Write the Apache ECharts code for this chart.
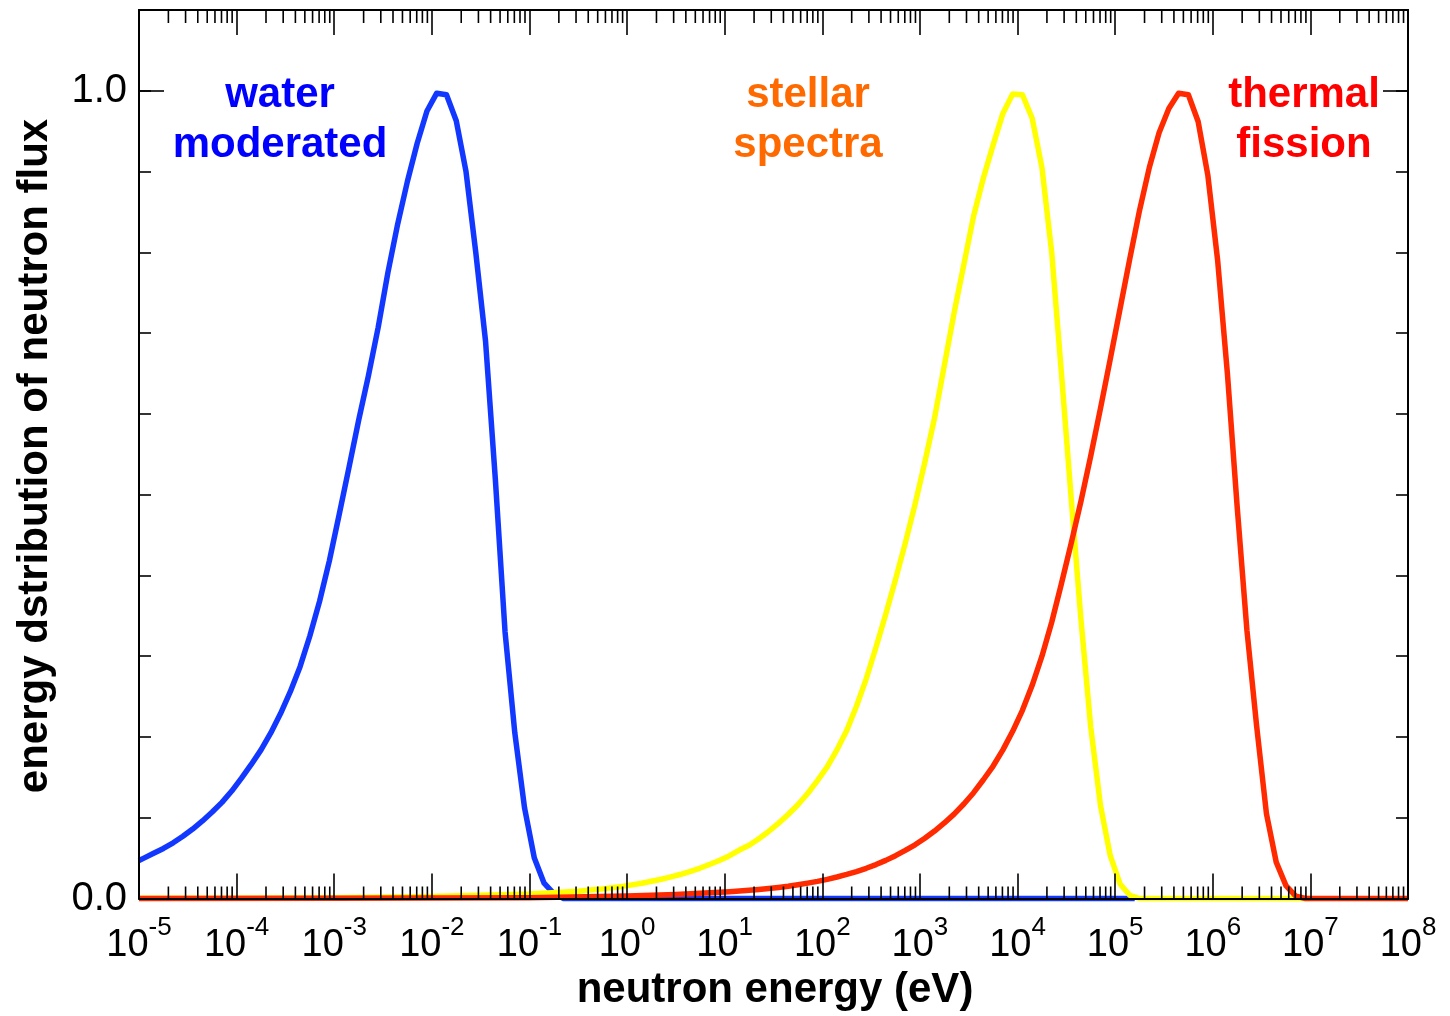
<!DOCTYPE html>
<html>
<head>
<meta charset="utf-8">
<title>Neutron energy spectra</title>
<script src="https://cdn.jsdelivr.net/npm/echarts@6/dist/echarts.min.js"></script>
<style>
  html, body { margin: 0; padding: 0; background: #fff; }
  #chart { width: 1450px; height: 1016px; }
</style>
</head>
<body>
<div id="chart"></div>
<script>
// Energies are stored as log10(E / eV); fluxes are normalised to a peak of 1.

// water-moderated (thermal) spectrum
const waterLogE = [-5.0, -4.95, -4.85, -4.75, -4.65, -4.55, -4.45, -4.35, -4.25, -4.15,
  -4.05, -3.95, -3.85, -3.75, -3.65, -3.55, -3.45, -3.35, -3.25, -3.15,
  -3.05, -2.95, -2.85, -2.75, -2.65, -2.55, -2.45, -2.35, -2.25, -2.15,
  -2.05, -1.95, -1.85, -1.75, -1.65, -1.55, -1.45, -1.35, -1.25, -1.15,
  -1.05, -0.95, -0.85, -0.75, -0.65, 5.2];
const waterFlux = [0.047, 0.050, 0.056, 0.062, 0.069, 0.077, 0.086, 0.096, 0.107, 0.119,
  0.133, 0.149, 0.166, 0.184, 0.205, 0.229, 0.256, 0.287, 0.325, 0.368,
  0.418, 0.475, 0.533, 0.592, 0.647, 0.707, 0.775, 0.835, 0.888, 0.935,
  0.975, 0.997, 0.995, 0.963, 0.900, 0.800, 0.690, 0.520, 0.330, 0.205,
  0.112, 0.050, 0.019, 0.006, 0.0, 0.0];

// stellar spectrum
const stellarLogE = [-5.0, -4.0, -3.0, -2.0, -1.5, -1.0, -0.5, -0.45, -0.35, -0.25,
  -0.15, -0.05, 0.05, 0.15, 0.25, 0.35, 0.45, 0.55, 0.65, 0.75,
  0.85, 0.95, 1.05, 1.15, 1.25, 1.35, 1.45, 1.55, 1.65, 1.75,
  1.85, 1.95, 2.05, 2.15, 2.25, 2.35, 2.45, 2.55, 2.65, 2.75,
  2.85, 2.95, 3.05, 3.15, 3.25, 3.35, 3.45, 3.55, 3.65, 3.75,
  3.85, 3.95, 4.05, 4.15, 4.25, 4.35, 4.45, 4.55, 4.65, 4.75,
  4.85, 4.95, 5.05, 5.15, 5.25, 7.0];
const stellarFlux = [0.0002, 0.0004, 0.001, 0.0025, 0.004, 0.0055, 0.009, 0.0095, 0.0107, 0.0119,
  0.0134, 0.0150, 0.0169, 0.0189, 0.0213, 0.0238, 0.0268, 0.0300, 0.0337, 0.0377,
  0.0424, 0.0474, 0.053, 0.060, 0.066, 0.074, 0.083, 0.093, 0.104, 0.116,
  0.130, 0.146, 0.163, 0.184, 0.208, 0.238, 0.272, 0.311, 0.352, 0.395,
  0.440, 0.488, 0.540, 0.595, 0.660, 0.725, 0.785, 0.845, 0.892, 0.933,
  0.972, 0.996, 0.995, 0.966, 0.905, 0.800, 0.650, 0.495, 0.345, 0.212,
  0.115, 0.053, 0.018, 0.004, 0.0, 0.0];

// thermal fission spectrum
const fissionLogE = [-5.0, -3.0, -1.0, 0.0, 0.5, 1.05, 1.15, 1.25, 1.35, 1.45,
  1.55, 1.65, 1.75, 1.85, 1.95, 2.05, 2.15, 2.25, 2.35, 2.45,
  2.55, 2.65, 2.75, 2.85, 2.95, 3.05, 3.15, 3.25, 3.35, 3.45,
  3.55, 3.65, 3.75, 3.85, 3.95, 4.05, 4.15, 4.25, 4.35, 4.45,
  4.55, 4.65, 4.75, 4.85, 4.95, 5.05, 5.15, 5.25, 5.35, 5.45,
  5.55, 5.65, 5.75, 5.85, 5.95, 6.05, 6.15, 6.25, 6.35, 6.45,
  6.55, 6.65, 6.75, 6.85, 6.95, 8.0];
const fissionFlux = [0.0, 0.0002, 0.0008, 0.003, 0.005, 0.0085, 0.0093, 0.0102, 0.0112, 0.0124,
  0.0137, 0.0152, 0.0170, 0.0190, 0.0212, 0.0237, 0.0266, 0.0298, 0.0334, 0.0374,
  0.0420, 0.0472, 0.0530, 0.0595, 0.0665, 0.0745, 0.0835, 0.0935, 0.1045, 0.117,
  0.131, 0.147, 0.164, 0.184, 0.207, 0.233, 0.264, 0.300, 0.342, 0.390,
  0.440, 0.492, 0.548, 0.607, 0.668, 0.730, 0.792, 0.852, 0.905, 0.948,
  0.978, 0.997, 0.995, 0.962, 0.895, 0.790, 0.650, 0.485, 0.332, 0.213,
  0.105, 0.045, 0.016, 0.003, 0.0, 0.0];

// axis ranges and labelled ticks
const decadeMin = -5, decadeMax = 8;
const fluxMax = 1.1;
const fluxTickLabels = { 0: '0.0', 1: '1.0' };
const minorMultipliers = [2, 3, 4, 5, 6, 7, 8, 9];

const FONT = "'Liberation Sans', Arial, Helvetica, sans-serif";

function pairs(xs, ys) { return xs.map((x, i) => [x, ys[i]]); }

// minor decade ticks (2..9 x 10^k) placed on the log10 energy axis
const minorTicks = [];
for (let k = decadeMin; k < decadeMax; k++) {
  minorMultipliers.forEach(m => minorTicks.push([k + Math.log10(m), 0]));
}

const chart = echarts.init(document.getElementById('chart'), null, { renderer: 'canvas' });

function xAxisCfg(position, showLabels) {
  return {
    type: 'value', position: position, min: decadeMin, max: decadeMax, interval: 1,
    z: 4,
    axisLine: { show: true, onZero: false, lineStyle: { color: '#000', width: 2 } },
    axisTick: { show: true, inside: true, length: 25, lineStyle: { color: '#000', width: 1.6 } },
    splitLine: { show: false },
    axisLabel: showLabels ? {
      show: true, margin: 16,
      formatter: v => '{b|10}{s|' + Math.round(v) + '}',
      rich: {
        b: { fontFamily: FONT, fontSize: 38, color: '#000', lineHeight: 50, verticalAlign: 'bottom' },
        s: { fontFamily: FONT, fontSize: 26, color: '#000', lineHeight: 26, verticalAlign: 'top' }
      }
    } : { show: false }
  };
}

function yAxisCfg(position, interval, tickLen, showLabels) {
  return {
    type: 'value', position: position, min: 0, max: fluxMax, interval: interval,
    z: 4,
    axisLine: { show: true, onZero: false, lineStyle: { color: '#000', width: 2 } },
    axisTick: { show: true, inside: true, length: tickLen, lineStyle: { color: '#000', width: 1.6 } },
    splitLine: { show: false },
    axisLabel: showLabels ? {
      show: true, margin: 12, fontFamily: FONT, fontSize: 40, color: '#000',
      formatter: v => fluxTickLabels[Math.round(v * 10) / 10] || ''
    } : { show: false }
  };
}

function curve(name, xs, ys, color) {
  return {
    name: name, type: 'line', xAxisIndex: 0, yAxisIndex: 0,
    data: pairs(xs, ys), showSymbol: false, smooth: false, clip: false,
    lineStyle: { color: color, width: 5.5, join: 'round' },
    emphasis: { disabled: true }, z: 2
  };
}

const option = {
  animation: false,
  backgroundColor: '#fff',
  grid: { left: 139, top: 10, width: 1269, height: 888.5, containLabel: false, show: false },
  xAxis: [xAxisCfg('bottom', true), xAxisCfg('top', false)],
  yAxis: [
    yAxisCfg('left', 0.1, 12, false),
    yAxisCfg('left', 1, 25, true),
    yAxisCfg('right', 0.1, 12, false),
    yAxisCfg('right', 1, 25, false)
  ],
  series: [
    curve('water moderated', waterLogE, waterFlux, '#1238ff'),
    curve('stellar spectra', stellarLogE, stellarFlux, '#ffff00'),
    curve('thermal fission', fissionLogE, fissionFlux, '#ff2a00'),
    {
      name: 'minor ticks', type: 'custom', xAxisIndex: 0, yAxisIndex: 0,
      data: minorTicks, silent: true, z: 6, clip: false,
      renderItem: function (params, api) {
        const x = api.coord([api.value(0), 0])[0];
        const cs = params.coordSys;
        const top = cs.y, bottom = cs.y + cs.height;
        const st = { stroke: '#000', lineWidth: 1.6 };
        return {
          type: 'group', children: [
            { type: 'line', shape: { x1: x, y1: bottom, x2: x, y2: bottom - 12 }, style: st },
            { type: 'line', shape: { x1: x, y1: top, x2: x, y2: top + 13 }, style: st }
          ]
        };
      }
    }
  ],
  graphic: [
    { type: 'text', x: 280, y: 120, style: { text: 'water\nmoderated', fill: '#0000ff',
      font: 'bold 42px ' + FONT, align: 'center', verticalAlign: 'middle', lineHeight: 50 } },
    { type: 'text', x: 808, y: 120, style: { text: 'stellar\nspectra', fill: '#ff6a00',
      font: 'bold 42px ' + FONT, align: 'center', verticalAlign: 'middle', lineHeight: 50 } },
    { type: 'text', x: 1304, y: 120, style: { text: 'thermal\nfission', fill: '#ff0000',
      font: 'bold 42px ' + FONT, align: 'center', verticalAlign: 'middle', lineHeight: 50 } },
    { type: 'text', x: 775, y: 990, style: { text: 'neutron energy (eV)', fill: '#000',
      font: 'bold 42px ' + FONT, align: 'center', verticalAlign: 'middle' } },
    { type: 'text', x: 35, y: 456, rotation: Math.PI / 2, style: { text: 'energy dstribution of neutron flux',
      fill: '#000', font: 'bold 42px ' + FONT, align: 'center', verticalAlign: 'middle' } }
  ]
};

chart.setOption(option);
</script>
</body>
</html>
